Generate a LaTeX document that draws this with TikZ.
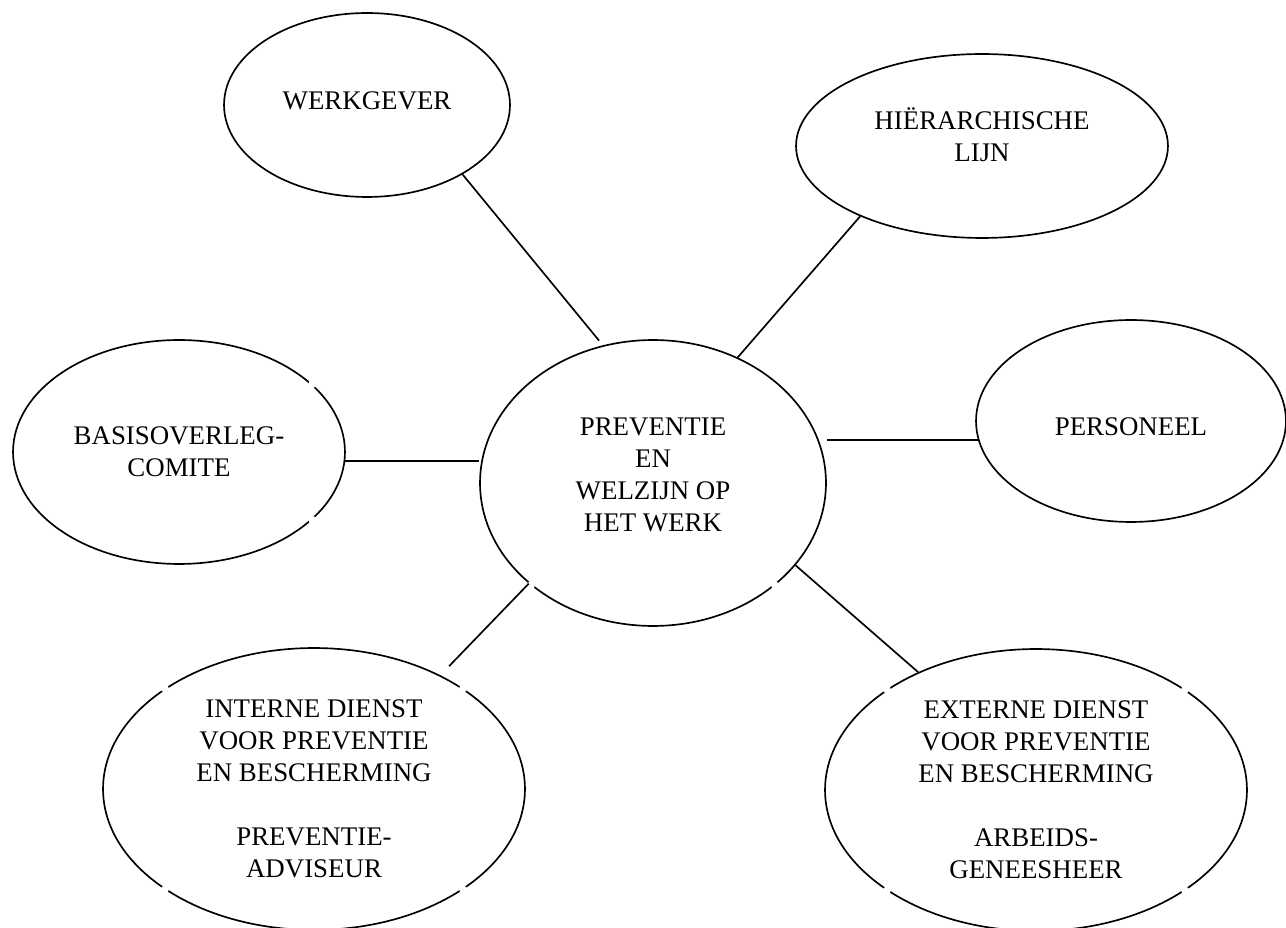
\documentclass[tikz,border=0pt]{standalone}
\usepackage{fontspec}
\setmainfont{Liberation Serif}
\usetikzlibrary{shapes.geometric}
\tikzset{
    bubble/.style={ellipse, draw, line width=0.95pt, inner sep=0pt, align=center,
        font=\fontsize{15.3}{18.2}\selectfont}, % the ovals with their text
    link/.style={line width=0.95pt}, % the plain lines between the ovals
    gap/.style={fill=white}, % small breaks in some outlines
}
\begin{document}
\begin{tikzpicture}[x=0.02cm, y=-0.02cm]
    \useasboundingbox (0,0) rectangle (1286,928);
    \clip (0,0) rectangle (1286,928);
    \node[bubble, minimum width=6.92cm, minimum height=5.72cm, text depth=0.34cm] (pw) at (653,483) {PREVENTIE\\EN\\WELZIJN OP\\HET WERK};
    \node[bubble, minimum width=5.72cm, minimum height=3.68cm, text depth=0.16cm] (wg) at (367,105) {WERKGEVER};
    \node[bubble, minimum width=7.44cm, minimum height=3.68cm, text depth=0.44cm] (hl) at (982,146) {HIËRARCHISCHE\\LIJN};
    \node[bubble, minimum width=6.64cm, minimum height=4.48cm] (bc) at (179,452) {BASISOVERLEG-\\COMITE};
    \node[bubble, minimum width=6.2cm, minimum height=4.04cm, text height=0.6cm] (ps) at (1131,421) {PERSONEEL};
    \node[bubble, minimum width=8.44cm, minimum height=5.64cm] (ia) at (314,789) {INTERNE DIENST\\VOOR PREVENTIE\\EN BESCHERMING\\[18.2pt]PREVENTIE-\\ADVISEUR};
    \node[bubble, minimum width=8.44cm, minimum height=5.64cm] (ea) at (1036,790) {EXTERNE DIENST\\VOOR PREVENTIE\\EN BESCHERMING\\[18.2pt]ARBEIDS-\\GENEESHEER};
    % breaks in the outlines
    \foreach \p in {pw.-40, pw.-140, bc.27, bc.-27, ia.34, ia.146, ia.-34, ia.-146, ea.34, ea.146, ea.-34, ea.-146}
        \fill[gap] (\p) circle (4);
    \draw[link, shorten >=0.12cm] (wg.-36) -- (pw.110);
    \draw[link] (hl.210) -- (pw.56);
    \draw[link] (bc.-3.8) -- (bc.-3.8 -| pw.west);
    \draw[link] (ps.187.9) -- (ps.187.9 -| pw.east);
    \draw[link, shorten >=0.25cm] (pw.219) -- (ia.42);
    \draw[link] (pw.-30) -- (ea.135);
\end{tikzpicture}
\end{document}
